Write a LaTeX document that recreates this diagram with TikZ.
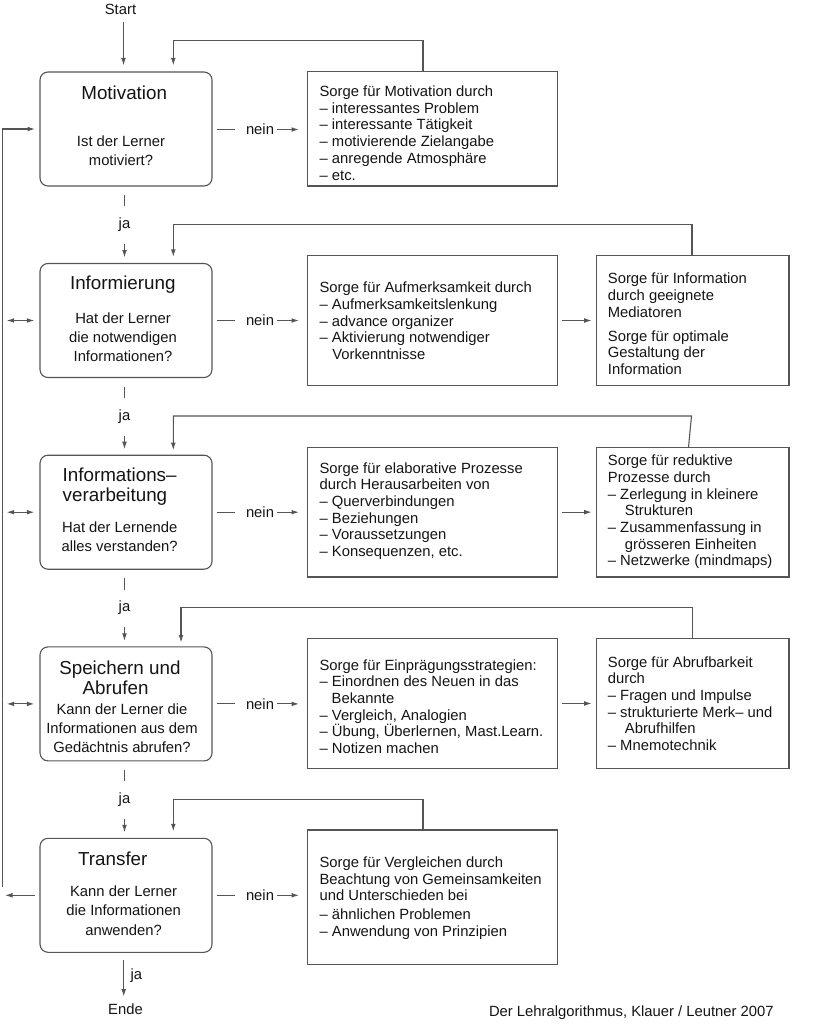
\documentclass[tikz,border=0pt]{standalone}
\usepackage{fontspec}
\setmainfont{Liberation Sans}
\usetikzlibrary{arrows.meta,calc}
\definecolor{lc}{HTML}{555555}
\definecolor{tc}{HTML}{141414}
\begin{document}
\begin{tikzpicture}[x=1pt,y=-1pt,
  every node/.style={text=tc, inner sep=0pt, outer sep=0pt},
  ln/.style={draw=lc, line width=1.1pt},
  arr/.style={ln, -{Latex[length=7.5pt,width=4.8pt]}},
  arrboth/.style={ln, {Latex[length=7.5pt,width=4.8pt]}-{Latex[length=7.5pt,width=4.8pt]}},
  stepbox/.style={draw=lc, line width=1.1pt, rounded corners=8pt, minimum width=172pt, minimum height=114pt},
  actbox/.style={draw=lc, line width=1.1pt, minimum width=250.3pt},
  actboxb/.style={draw=lc, line width=1.1pt, minimum width=192.8pt},
  titletxt/.style={font=\fontsize{18.8}{20}\selectfont},
  qtxt/.style={font=\fontsize{14.8}{19.2}\selectfont, align=center},
  bodytxt/.style={font=\fontsize{14.8}{16.7}\selectfont, align=left, anchor=west},
  lab/.style={font=\fontsize{14.8}{17}\selectfont},
]
\useasboundingbox (0,0) rectangle (818,1024);

% ---------- left step boxes ----------
\node[stepbox] (m1) at (126,129) {};
\node[stepbox] (m2) at (126,320.5) {};
\node[stepbox] (m3) at (126,512.2) {};
\node[stepbox] (m4) at (126,703.9) {};
\node[stepbox] (m5) at (126,895.3) {};

\node[titletxt] (h1) at (124.2,92.7) {Motivation};
\node[qtxt] (q1) at (121,151) {Ist der Lerner\\motiviert?};
\node[titletxt] (h2) at (122.8,285) {Informierung};
\node[qtxt] (q2) at (123,337) {Hat der Lerner\\die notwendigen\\Informationen?};
\node[titletxt, align=left, anchor=west] (h3) at (62.7,487) {Informations–\\verarbeitung};
\node[qtxt] (q3) at (119.7,536.5) {Hat der Lernende\\alles verstanden?};
\node[titletxt, align=left, anchor=west] (h4) at (59.3,677.5) {Speichern und\\\hspace*{23.4pt}Abrufen};
\node[qtxt] (q4) at (122,728) {Kann der Lerner die\\Informationen aus dem\\Gedächtnis abrufen?};
\node[titletxt] (h5) at (112.8,859) {Transfer};
\node[qtxt] (q5) at (123.6,910.5) {Kann der Lerner\\die Informationen\\anwenden?};

% ---------- right action boxes ----------
\node[actbox, minimum height=114.3pt] (r1) at (432.75,128.85) {};
\node[actbox, minimum height=129.6pt] (r2) at (432.75,320.5) {};
\node[actboxb, minimum height=129.6pt] (r2b) at (692.6,320.5) {};
\node[actbox, minimum height=129.7pt] (r3) at (432.75,512.15) {};
\node[actboxb, minimum height=129.7pt] (r3b) at (692.6,512.15) {};
\node[actbox, minimum height=130.4pt] (r4) at (432.75,703.5) {};
\node[actboxb, minimum height=130.4pt] (r4b) at (692.6,703.5) {};
\node[actbox, minimum height=134.3pt] (r5) at (432.75,897.15) {};

\node[bodytxt] (t1) at (319.6,133) {Sorge für Motivation durch\\– interessantes Problem\\– interessante Tätigkeit\\– motivierende Zielangabe\\– anregende Atmosphäre\\– etc.};
\node[bodytxt] (t2) at (319.6,321) {Sorge für Aufmerksamkeit durch\\– Aufmerksamkeitslenkung\\– advance organizer\\– Aktivierung notwendiger\\\hspace*{12.7pt}Vorkenntnisse};
\node[bodytxt] (t2b) at (607.9,324) {Sorge für Information\\durch geeignete\\Mediatoren\\[7.3pt]Sorge für optimale\\Gestaltung der\\Information};
\node[bodytxt] (t3) at (319.6,511) {Sorge für elaborative Prozesse\\durch Herausarbeiten von\\– Querverbindungen\\– Beziehungen\\– Voraussetzungen\\– Konsequenzen, etc.};
\node[bodytxt] (t3b) at (607.9,512) {Sorge für reduktive\\Prozesse durch\\– Zerlegung in kleinere\\\hspace*{17pt}Strukturen\\– Zusammenfassung in\\\hspace*{17pt}grösseren Einheiten\\– Netzwerke (mindmaps)};
\node[bodytxt] (t4) at (319.6,706.5) {Sorge für Einprägungsstrategien:\\– Einordnen des Neuen in das\\\hspace*{12.1pt}Bekannte\\– Vergleich, Analogien\\– Übung, Überlernen, Mast.Learn.\\– Notizen machen};
\node[bodytxt] (t4b) at (607.9,703.5) {Sorge für Abrufbarkeit\\durch\\– Fragen und Impulse\\– strukturierte Merk– und\\\hspace*{17pt}Abrufhilfen\\– Mnemotechnik};
\node[bodytxt] (t5) at (319.6,898) {Sorge für Vergleichen durch\\Beachtung von Gemeinsamkeiten\\und Unterschieden bei\\[2pt]– ähnlichen Problemen\\– Anwendung von Prinzipien};

% ---------- start / end ----------
\node[lab] (st) at (120.5,9.5) {Start};
\coordinate (sx) at (123.5,21.7);
\draw[arr, shorten >=6.5pt] (sx) -- (sx |- m1.north);

\node[lab] (ende) at (125.5,1009) {Ende};
\coordinate (ex) at (123.7,960);
\draw[arr, shorten <=8pt, shorten >=7pt] (ex |- m5.south) -- (ex |- ende.north);
\node[lab, anchor=west] (jae) at (130.7,976) {ja};

% ---------- ja connectors ----------
\node[lab] (ja1) at (124.5,224.5) {ja};
\node[lab] (ja2) at (124.5,416.3) {ja};
\node[lab] (ja3) at (124.5,608) {ja};
\node[lab] (ja4) at (124.5,799.7) {ja};
\draw[ln, shorten <=9pt, shorten >=11.5pt] (ja1 |- m1.south) -- (ja1);
\draw[arr, shorten <=12.5pt, shorten >=6pt] (ja1) -- (ja1 |- m2.north);
\draw[ln, shorten <=9pt, shorten >=11.5pt] (ja2 |- m2.south) -- (ja2);
\draw[arr, shorten <=12.5pt, shorten >=6pt] (ja2) -- (ja2 |- m3.north);
\draw[ln, shorten <=9pt, shorten >=11.5pt] (ja3 |- m3.south) -- (ja3);
\draw[arr, shorten <=12.5pt, shorten >=6pt] (ja3) -- (ja3 |- m4.north);
\draw[ln, shorten <=9pt, shorten >=11.5pt] (ja4 |- m4.south) -- (ja4);
\draw[arr, shorten <=12.5pt, shorten >=6pt] (ja4) -- (ja4 |- m5.north);

% ---------- nein connectors ----------
\node[lab] (n1) at (260,129.5) {nein};
\node[lab] (n2) at (260,320.5) {nein};
\node[lab] (n3) at (260,512.2) {nein};
\node[lab] (n4) at (260,703.9) {nein};
\node[lab] (n5) at (260,895.3) {nein};
\draw[ln, shorten <=4.7pt, shorten >=11.3pt] (m1.east |- n1.west) -- (n1.west);
\draw[arr, shorten <=3.3pt, shorten >=8.6pt] (n1.east) -- (n1.east -| r1.west);
\draw[ln, shorten <=4.7pt, shorten >=11.3pt] (m2.east) -- (n2.west);
\draw[arr, shorten <=3.3pt, shorten >=8.6pt] (n2.east) -- (n2.east -| r2.west);
\draw[ln, shorten <=4.7pt, shorten >=11.3pt] (m3.east) -- (n3.west);
\draw[arr, shorten <=3.3pt, shorten >=8.6pt] (n3.east) -- (n3.east -| r3.west);
\draw[ln, shorten <=4.7pt, shorten >=11.3pt] (m4.east) -- (n4.west);
\draw[arr, shorten <=3.3pt, shorten >=8.6pt] (n4.east) -- (n4.east -| r4.west);
\draw[ln, shorten <=4.7pt, shorten >=11.3pt] (m5.east) -- (n5.west);
\draw[arr, shorten <=3.3pt, shorten >=8.6pt] (n5.east) -- (n5.east -| r5.west);

% ---------- col1 -> col2 ----------
\draw[arr, shorten <=4.5pt, shorten >=4.5pt] (r2.east) -- (r2b.west);
\draw[arr, shorten <=4.5pt, shorten >=4.5pt] (r3.east) -- (r3b.west);
\draw[arr, shorten <=4.5pt, shorten >=4.5pt] (r4.east) -- (r4b.west);

% ---------- left loop ----------
\coordinate (lp) at (2.7,886.7);
\draw[arr, shorten >=5pt] (lp) -- (lp |- m1.west) -- (m1.west);
\draw[arr, shorten <=5pt, shorten >=2.3pt] (m5.west) -- (lp |- m5.west);
\draw[arrboth, shorten <=4pt, shorten >=5.7pt] (lp |- m2.west) -- (m2.west);
\draw[arrboth, shorten <=4pt, shorten >=5.7pt] (lp |- m3.west) -- (m3.west);
\draw[arrboth, shorten <=4pt, shorten >=5.7pt] (lp |- m4.west) -- (m4.west);

% ---------- feedback loops ----------
\coordinate (fb1) at (423,40.7);   \coordinate (fa1) at (173.3,40.7);
\draw[arr, shorten >=6.6pt] (fb1 |- r1.north) -- (fb1) -- (fa1) -- (fa1 |- m1.north);
\coordinate (fb2) at (692,224.6);    \coordinate (fa2) at (173.3,224.6);
\draw[arr, shorten >=6.6pt] (fb2 |- r2b.north) -- (fb2) -- (fa2) -- (fa2 |- m2.north);
\coordinate (fs3) at (688.5,446);  \coordinate (fb3) at (691.5,416); \coordinate (fa3) at (173.3,416);
\draw[arr, shorten >=5pt] (fs3 |- r3b.north) -- (fb3) -- (fa3) -- (fa3 |- m3.north);
\coordinate (fb4) at (692.6,607.3); \coordinate (fa4) at (181,607.3);
\draw[arr, shorten >=4.4pt] (fb4 |- r4b.north) -- (fb4) -- (fa4) -- (fa4 |- m4.north);
\coordinate (fb5) at (423,799.3);  \coordinate (fa5) at (173.3,799.3);
\draw[arr, shorten >=7pt] (fb5 |- r5.north) -- (fb5) -- (fa5) -- (fa5 |- m5.north);

% ---------- footer ----------
\node[lab, anchor=west] (foot) at (489,1013) {Der Lehralgorithmus, Klauer / Leutner 2007};
\end{tikzpicture}
\end{document}
